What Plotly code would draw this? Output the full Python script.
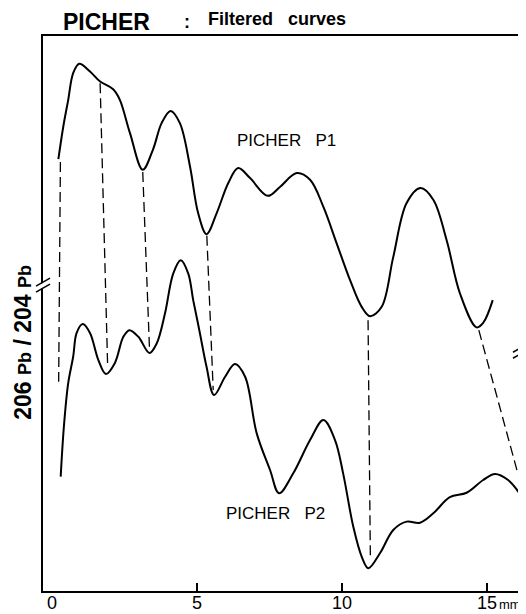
import plotly.graph_objects as go

# ---- data (distance in mm, ratio in relative units) ----
P1_X = [0.22, 0.39, 0.56, 0.73, 0.94, 1.31, 1.66, 2.11, 2.34, 2.69, 3.13, 3.48, 3.78, 4.09, 4.41,
        4.76, 5.04, 5.33, 5.68, 6.08, 6.42, 6.83, 7.44, 7.86, 8.44, 8.90, 9.36, 9.82, 10.28,
        10.68, 10.97, 11.37, 11.77, 12.23, 12.71, 13.15, 13.61, 14.07, 14.64, 14.87, 15.20]
P1_Y = [77.8, 83.7, 88.5, 93.3, 95.0, 93.6, 91.8, 90.4, 88.5, 82.5, 75.9, 79.5, 84.3, 86.5, 84.3,
        76.5, 68.1, 64.3, 68.1, 73.5, 76.2, 74.4, 71.2, 72.8, 75.3, 74.1, 69.2, 62.6, 56.0,
        51.2, 49.5, 51.2, 60.2, 69.9, 72.6, 70.5, 63.2, 53.6, 47.5, 48.3, 52.4]

P2_X = [0.30, 0.41, 0.56, 0.73, 0.85, 1.06, 1.31, 1.60, 1.86, 2.17, 2.46, 2.67, 2.98, 3.36, 3.61,
        3.90, 4.18, 4.44, 4.70, 4.87, 5.10, 5.33, 5.59, 5.97, 6.31, 6.66, 7.06, 7.52, 7.83,
        8.32, 8.90, 9.36, 9.76, 10.04, 10.39, 10.68, 10.91, 11.31, 11.77, 12.23, 12.69, 13.15,
        13.72, 14.30, 14.87, 15.28, 15.73, 16.11]
P2_Y = [20.6, 29.6, 37.5, 42.2, 46.5, 48.1, 46.5, 41.6, 39.1, 41.1, 45.8, 47.0, 45.8, 42.9, 44.6,
        50.1, 57.2, 59.6, 57.2, 52.4, 46.5, 40.4, 35.3, 38.6, 40.9, 38.6, 28.4, 21.8, 17.6,
        21.2, 27.2, 30.8, 27.2, 21.2, 11.6, 6.2, 4.1, 6.8, 11.0, 12.5, 12.3, 14.0,
        16.9, 17.7, 20.0, 21.1, 20.0, 17.7]

# correlation links: P1 point -> P2 point
LINK_X1 = [0.29, 1.66, 3.13, 5.34, 10.90, 14.72]
LINK_Y1 = [77.3, 91.5, 75.5, 64.0, 48.8, 47.0]
LINK_X2 = [0.23, 1.92, 3.36, 5.56, 10.98, 16.07]
LINK_Y2 = [37.7, 40.4, 44.0, 36.2, 5.6, 21.1]

TICK_VALS = [0, 5, 10, 15]
TICK_TEXT = ["0", "5", "10", "15"]
X_UNIT = "mm"
X_RANGE = [-0.31, 16.14]
Y_RANGE = [0, 100]
BREAK_LEFT_Y = 55.1
BREAK_RIGHT_Y = 43.2

FONT = "Liberation Sans, Arial, Helvetica, sans-serif"

fig = go.Figure()

for i in range(len(LINK_X1)):
    fig.add_trace(go.Scatter(
        x=[LINK_X1[i], LINK_X2[i]], y=[LINK_Y1[i], LINK_Y2[i]],
        mode="lines", line=dict(color="black", width=1.3, dash="10px,5px"),
        showlegend=False, hoverinfo="skip"))

fig.add_trace(go.Scatter(x=P1_X, y=P1_Y, mode="lines", name="PICHER P1",
                         line=dict(color="black", width=2, shape="spline", smoothing=1),
                         showlegend=False))
fig.add_trace(go.Scatter(x=P2_X, y=P2_Y, mode="lines", name="PICHER P2",
                         line=dict(color="black", width=2, shape="spline", smoothing=1),
                         showlegend=False))

annotations = [
    dict(text="<b>PICHER</b>", x=0.038, y=1.026, xref="paper", yref="paper",
         xanchor="left", yanchor="middle", showarrow=False,
         font=dict(family=FONT, size=23, color="black")),
    dict(text="<b>:</b>", x=0.302, y=1.026, xref="paper", yref="paper",
         xanchor="center", yanchor="middle", showarrow=False,
         font=dict(family=FONT, size=18, color="black")),
    dict(text="<b>Filtered\u00a0\u00a0\u00a0curves</b>", x=0.342, y=1.030, xref="paper", yref="paper",
         xanchor="left", yanchor="middle", showarrow=False,
         font=dict(family=FONT, size=18, color="black")),
    dict(text="<b>206\u00a0<span style='font-size:18px'>Pb</span>\u00a0/\u00a0204\u00a0<span style='font-size:18px'>Pb</span></b>",
         x=-0.042, y=0.449, xref="paper", yref="paper", textangle=-90,
         xanchor="center", yanchor="middle", showarrow=False,
         font=dict(family=FONT, size=23, color="black")),
    dict(text="PICHER\u00a0\u00a0\u00a0P1", x=8.1, y=81.1, xref="x", yref="y",
         xanchor="center", yanchor="middle", showarrow=False,
         font=dict(family=FONT, size=17, color="black")),
    dict(text="PICHER\u00a0\u00a0\u00a0P2", x=7.71, y=13.9, xref="x", yref="y",
         xanchor="center", yanchor="middle", showarrow=False,
         font=dict(family=FONT, size=17, color="black")),
    dict(text=X_UNIT, x=15.35, y=-0.024, xref="x", yref="paper",
         xanchor="left", yanchor="middle", showarrow=False,
         font=dict(family=FONT, size=13, color="black")),
]
for tv, tt in zip(TICK_VALS, TICK_TEXT):
    annotations.append(dict(text=tt, x=tv, y=-0.021, xref="x", yref="paper",
                            xanchor="center", yanchor="middle", showarrow=False,
                            font=dict(family=FONT, size=18, color="black")))

shapes = []
for xa, ya in [(0, BREAK_LEFT_Y), (1, BREAK_RIGHT_Y)]:
    shapes.append(dict(type="line", xref="paper", yref="y", xsizemode="pixel", ysizemode="pixel",
                       xanchor=xa, yanchor=ya, x0=-6, x1=6, y0=-4, y1=4,
                       line=dict(color="white", width=4), layer="above"))
    for off in (-3, 3):
        shapes.append(dict(type="line", xref="paper", yref="y", xsizemode="pixel", ysizemode="pixel",
                           xanchor=xa, yanchor=ya, x0=-7, x1=7, y0=-4 + off, y1=4 + off,
                           line=dict(color="black", width=1.5), layer="above"))

# the page body adds an 8px offset, so the figure is sized to fit the window
fig.update_layout(
    width=518, height=606,
    margin=dict(l=35, r=6, t=28, b=23),
    paper_bgcolor="white", plot_bgcolor="white",
    font=dict(family=FONT, color="black"),
    annotations=annotations, shapes=shapes,
    xaxis=dict(range=X_RANGE, tickvals=TICK_VALS, showticklabels=False, ticks="",
               minor=dict(tickvals=TICK_VALS[1:], ticks="inside", ticklen=8,
                          tickcolor="black", tickwidth=1.5, showgrid=False),
               showgrid=False, zeroline=False, showline=True, linecolor="black",
               linewidth=1.8, mirror=True, automargin=False),
    yaxis=dict(range=Y_RANGE, showticklabels=False, ticks="", showgrid=False,
               zeroline=False, showline=True, linecolor="black", linewidth=1.8,
               mirror=True, automargin=False),
)

fig.write_html("out.html")
